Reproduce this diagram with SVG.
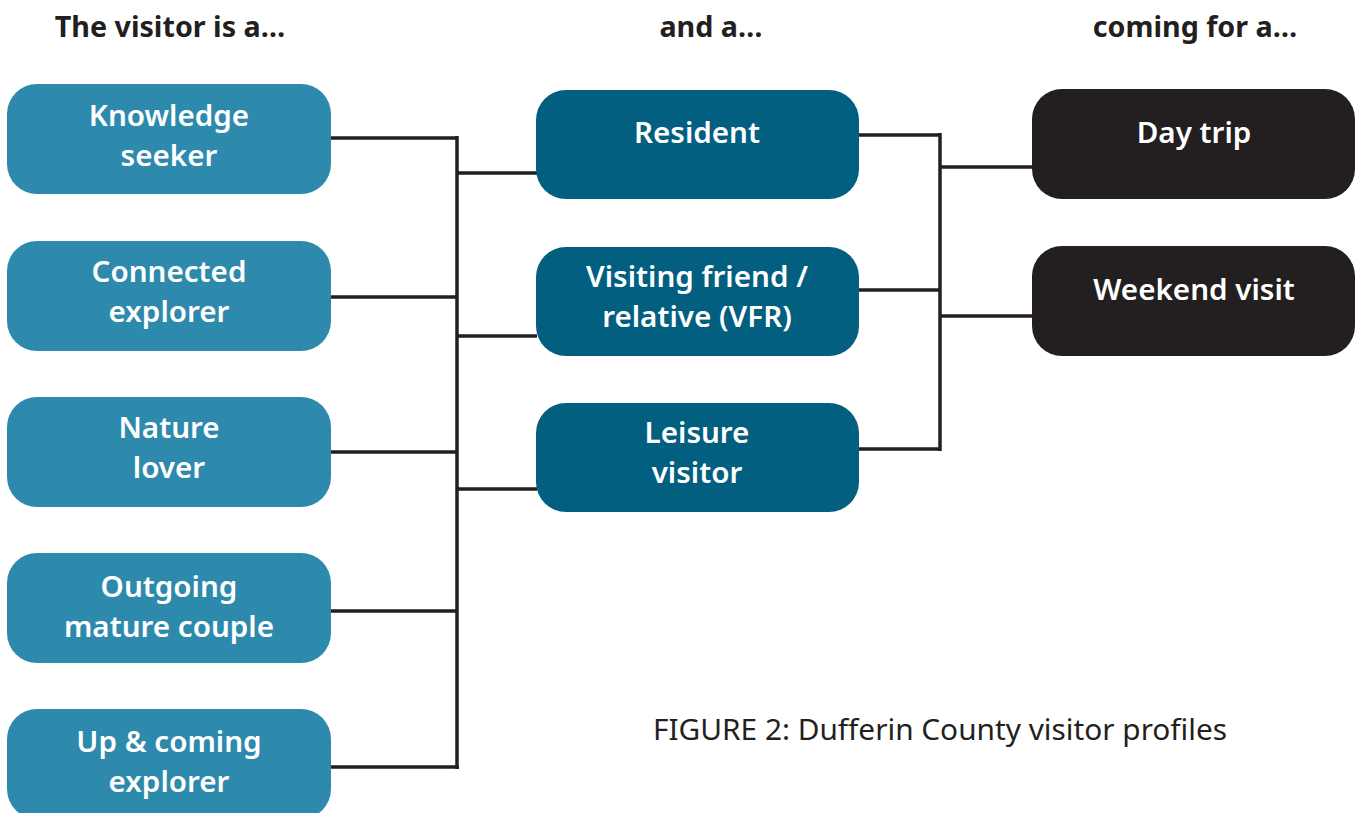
<svg xmlns="http://www.w3.org/2000/svg" width="1356" height="813" viewBox="0 0 1356 813">
<style>
.hdr{font-family:"Noto Sans","Open Sans",sans-serif;font-weight:700;font-size:28.7px;fill:#231F20;text-anchor:middle}
.lbl{font-family:"Noto Sans","Open Sans",sans-serif;font-weight:600;font-size:29.6px;fill:#FFFFFF;text-anchor:middle}
.cap{font-family:"Noto Sans","Open Sans",sans-serif;font-weight:400;font-size:29.8px;fill:#231F20}
.a{fill:#2E8AAD}
.b{fill:#035F7F}
.c{fill:#231F20}
.ln{stroke:#231F20;stroke-width:3.5;fill:none;stroke-linecap:butt}
</style>
<rect width="1356" height="813" fill="#FFFFFF"/>
<text class="hdr" x="170" y="37">The visitor is a…</text>
<text class="hdr" x="711" y="37">and a…</text>
<text class="hdr" x="1195" y="37">coming for a…</text>

<g id="connectors">
<path class="ln" d="M331 138H457M331 297H457M331 452H457M331 611H457M331 767H459M457 136V769"/>
<path class="ln" d="M457 173H537M457 336H537M457 489H537"/>
<path class="ln" d="M859 135H941M859 290H941M859 449H941M940 133V451"/>
<path class="ln" d="M940 167H1033M940 316H1033"/>
</g>

<g id="n-knowledge"><rect class="a" x="7" y="84" width="324" height="110" rx="30"/><text class="lbl" x="169" y="126">Knowledge</text><text class="lbl" x="169" y="166">seeker</text></g>
<g id="n-connected"><rect class="a" x="7" y="241" width="324" height="110" rx="30"/><text class="lbl" x="169" y="282">Connected</text><text class="lbl" x="169" y="322">explorer</text></g>
<g id="n-nature"><rect class="a" x="7" y="397" width="324" height="110" rx="30"/><text class="lbl" x="169" y="438">Nature</text><text class="lbl" x="169" y="478">lover</text></g>
<g id="n-outgoing"><rect class="a" x="7" y="553" width="324" height="110" rx="30"/><text class="lbl" x="169" y="597">Outgoing</text><text class="lbl" x="169" y="637">mature couple</text></g>
<g id="n-upcoming"><rect class="a" x="7" y="709" width="324" height="110" rx="30"/><text class="lbl" x="169" y="752">Up &amp; coming</text><text class="lbl" x="169" y="792">explorer</text></g>

<g id="n-resident"><rect class="b" x="536" y="90" width="323" height="109" rx="30"/><text class="lbl" x="697" y="143">Resident</text></g>
<g id="n-vfr"><rect class="b" x="536" y="247" width="323" height="109" rx="30"/><text class="lbl" x="697" y="287">Visiting friend /</text><text class="lbl" x="697" y="327">relative (VFR)</text></g>
<g id="n-leisure"><rect class="b" x="536" y="403" width="323" height="109" rx="30"/><text class="lbl" x="697" y="443">Leisure</text><text class="lbl" x="697" y="483">visitor</text></g>

<g id="n-daytrip"><rect class="c" x="1032" y="89" width="323" height="110" rx="30"/><text class="lbl" x="1194" y="143">Day trip</text></g>
<g id="n-weekend"><rect class="c" x="1032" y="246" width="323" height="110" rx="30"/><text class="lbl" x="1194" y="300">Weekend visit</text></g>

<text class="cap" x="653" y="740">FIGURE 2: Dufferin County visitor profiles</text>
</svg>
